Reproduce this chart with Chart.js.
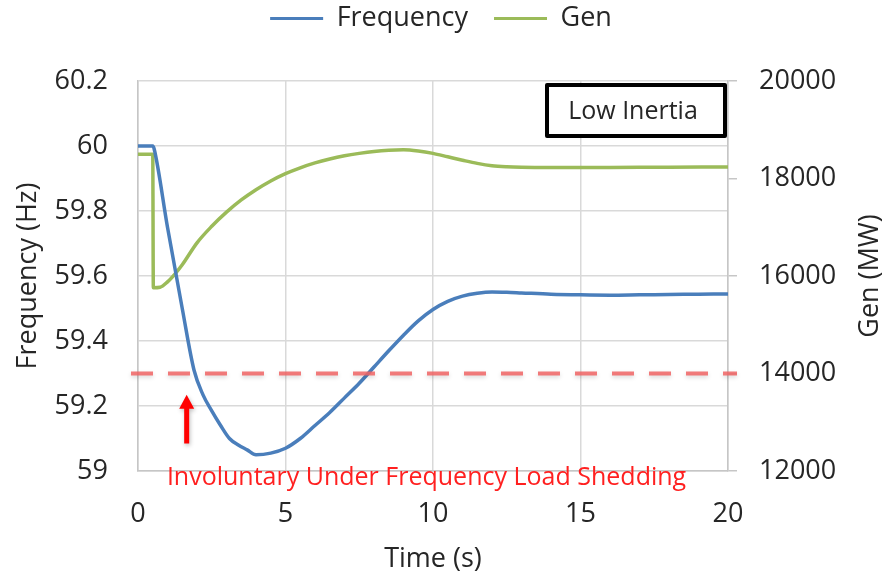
<!DOCTYPE html>
<html>
<head>
<meta charset="utf-8">
<script src="https://cdn.jsdelivr.net/npm/chart.js@4.4.1/dist/chart.umd.min.js"></script>
<style>
  html, body { margin: 0; padding: 0; background: #fff; }
</style>
</head>
<body>
<canvas id="myChart" width="882" height="576"></canvas>
<script>
// values
const freqTime = [0, 0.5, 0.55, 1.0, 1.5, 1.9, 2.2, 2.5, 2.8, 3.1, 3.4, 3.7, 4.0, 4.5, 5.0, 5.5, 6.0, 6.5, 7.0, 7.5, 8.0, 8.5, 9.0, 9.5, 10.0, 10.5, 11.0, 11.5, 12.0, 12.5, 13.0, 14.0, 15.0, 16.0, 17.0, 18.0, 19.0, 20.0];
const freqValues = [60, 60, 59.99, 59.75, 59.5, 59.31, 59.235, 59.185, 59.14, 59.1, 59.08, 59.065, 59.05, 59.055, 59.07, 59.1, 59.14, 59.18, 59.225, 59.27, 59.32, 59.37, 59.418, 59.462, 59.497, 59.522, 59.538, 59.547, 59.551, 59.55, 59.548, 59.544, 59.542, 59.541, 59.542, 59.543, 59.544, 59.545];
const genTime = [0, 0.5, 0.52, 0.75, 1.0, 1.25, 1.5, 2.0, 2.5, 3.0, 3.5, 4.0, 4.5, 5.0, 5.5, 6.0, 6.5, 7.0, 7.5, 8.0, 8.5, 9.0, 9.5, 10.0, 10.5, 11.0, 11.5, 12.0, 12.5, 13.0, 14.0, 16.0, 18.0, 20.0];
const genValues = [18500, 18500, 15760, 15770, 15880, 16040, 16230, 16680, 17020, 17310, 17560, 17770, 17950, 18100, 18220, 18320, 18400, 18465, 18515, 18555, 18580, 18590, 18565, 18515, 18445, 18375, 18310, 18262, 18240, 18230, 18225, 18228, 18232, 18235];

const timeTicks = ['0', '5', '10', '15', '20'];
const freqTicks = ['59', '59.2', '59.4', '59.6', '59.8', '60', '60.2'];
const genTicks = ['12000', '14000', '16000', '18000', '20000'];

const sheddingLevel = 59.3;
const arrowTime = 1.65;
const arrowFrom = 59.085;
const arrowTo = 59.235;
const noteText = 'Involuntary Under Frequency Load Shedding';
const noteTime = 9.78;
const boxText = 'Low Inertia';

const textColor = '#262626';
const gridColor = '#d9d9d9';
const axisColor = '#c6c6c6';
const fontName = "'Open Sans', sans-serif";

Chart.defaults.font.family = fontName;
Chart.defaults.font.size = 27;
Chart.defaults.color = textColor;

const extras = {
  id: 'extras',
  beforeLayout(chart) {
    // make the legend take the whole band above the plot
    const lg = chart.legend;
    if (lg && !lg._patched) {
      const fit = lg.fit.bind(lg);
      lg.fit = function () { fit(); this.height = 81; };
      const draw = lg.draw.bind(lg);
      lg.draw = function () {
        this.ctx.save();
        this.ctx.translate(0, -21);
        draw();
        this.ctx.restore();
      };
      lg._patched = true;
    }
  },
  afterDatasetsDraw(chart) {
    const { ctx, chartArea: a, scales: { x, y } } = chart;

    // dashed shedding threshold
    const ly = y.getPixelForValue(sheddingLevel);
    ctx.save();
    ctx.strokeStyle = 'rgba(240,100,100,0.85)';
    ctx.lineWidth = 4;
    ctx.setLineDash([22, 15]);
    ctx.shadowColor = 'rgba(0,0,0,0.18)';
    ctx.shadowBlur = 4;
    ctx.shadowOffsetY = 2;
    ctx.beginPath();
    ctx.moveTo(a.left - 7, ly);
    ctx.lineTo(a.right + 9, ly);
    ctx.stroke();
    ctx.restore();

    // red arrow
    const ax = x.getPixelForValue(arrowTime);
    const tip = y.getPixelForValue(arrowTo);
    const tail = y.getPixelForValue(arrowFrom);
    ctx.save();
    ctx.fillStyle = '#ff0000';
    ctx.shadowColor = 'rgba(0,0,0,0.25)';
    ctx.shadowBlur = 4;
    ctx.shadowOffsetX = 1;
    ctx.shadowOffsetY = 2;
    ctx.beginPath();
    ctx.moveTo(ax, tip);
    ctx.lineTo(ax + 7.5, tip + 14);
    ctx.lineTo(ax + 2.5, tip + 14);
    ctx.lineTo(ax + 2.5, tail);
    ctx.lineTo(ax - 2.5, tail);
    ctx.lineTo(ax - 2.5, tip + 14);
    ctx.lineTo(ax - 7.5, tip + 14);
    ctx.closePath();
    ctx.fill();
    ctx.restore();

    // low inertia box
    ctx.save();
    ctx.fillStyle = '#fff';
    ctx.fillRect(a.right - 181, a.top + 4, 178, 51);
    ctx.strokeStyle = '#000';
    ctx.lineWidth = 4;
    ctx.lineJoin = 'round';
    ctx.strokeRect(a.right - 181, a.top + 4, 178, 51);
    ctx.fillStyle = textColor;
    ctx.font = '25px ' + fontName;
    ctx.textAlign = 'center';
    ctx.textBaseline = 'middle';
    ctx.fillText(boxText, a.right - 95, a.top + 31);
    ctx.restore();
  },
  afterDraw(chart) {
    const { ctx, chartArea: a, scales: { x } } = chart;
    ctx.save();
    // note under the plot
    ctx.font = '100px ' + fontName;
    const size = 100 * 519 / ctx.measureText(noteText).width;
    ctx.font = size.toFixed(1) + 'px ' + fontName;
    ctx.fillStyle = '#ff2020';
    ctx.textAlign = 'center';
    ctx.textBaseline = 'middle';
    ctx.fillText(noteText, x.getPixelForValue(noteTime), a.bottom + 7);

    // right axis title, reading upwards like the left one
    ctx.font = '27px ' + fontName;
    ctx.fillStyle = textColor;
    ctx.translate(870, (a.top + a.bottom) / 2);
    ctx.rotate(-Math.PI / 2);
    ctx.fillText('Gen (MW)', 0, 0);
    ctx.restore();
  }
};

new Chart(document.getElementById('myChart'), {
  type: 'line',
  data: {
    datasets: [
      {
        label: 'Frequency',
        data: freqTime.map((t, i) => ({ x: t, y: freqValues[i] })),
        borderColor: '#4a7ebb',
        backgroundColor: '#4a7ebb',
        borderWidth: 3.5,
        pointRadius: 0,
        cubicInterpolationMode: 'monotone',
        yAxisID: 'y'
      },
      {
        label: 'Gen',
        data: genTime.map((t, i) => ({ x: t, y: genValues[i] })),
        borderColor: '#9bbb59',
        backgroundColor: '#9bbb59',
        borderWidth: 3.5,
        pointRadius: 0,
        cubicInterpolationMode: 'monotone',
        yAxisID: 'y2'
      }
    ]
  },
  options: {
    responsive: false,
    animation: false,
    layout: { padding: 0 },
    plugins: {
      tooltip: { enabled: false },
      legend: {
        position: 'top',
        labels: {
          boxWidth: 53,
          boxHeight: 3,
          padding: 26,
          color: textColor,
          font: { size: 27 },
          generateLabels(chart) {
            return Chart.defaults.plugins.legend.labels.generateLabels(chart)
              .map(l => ({ ...l, fillStyle: l.strokeStyle, lineWidth: 0 }));
          }
        }
      }
    },
    scales: {
      x: {
        type: 'linear',
        min: 0,
        max: 20,
        ticks: { stepSize: 5, padding: 27, callback: (v, i) => timeTicks[i] },
        grid: { color: gridColor, lineWidth: 1.5, drawTicks: false },
        border: { color: axisColor, width: 1.5 },
        title: { display: true, text: 'Time (s)', padding: { top: 0, bottom: 0 } },
        afterFit(s) { s.height = 105; }
      },
      y: {
        position: 'left',
        min: 59,
        max: 60.2,
        ticks: { stepSize: 0.2, padding: 30, callback: (v, i) => freqTicks[i] },
        grid: { color: gridColor, lineWidth: 1.5, drawTicks: false },
        border: { color: axisColor, width: 1.5 },
        title: { display: true, text: 'Frequency (Hz)', padding: { top: 12, bottom: 0 } },
        afterFit(s) { s.width = 138; }
      },
      y2: {
        position: 'right',
        min: 12000,
        max: 20000,
        ticks: { stepSize: 2000, padding: 22, callback: (v, i) => genTicks[i] },
        grid: { drawOnChartArea: false, drawTicks: true, tickLength: 9, color: axisColor, lineWidth: 1.5 },
        border: { color: axisColor, width: 1.5 },
        afterFit(s) { s.width = 154; }
      }
    }
  },
  plugins: [extras]
});
</script>
</body>
</html>
